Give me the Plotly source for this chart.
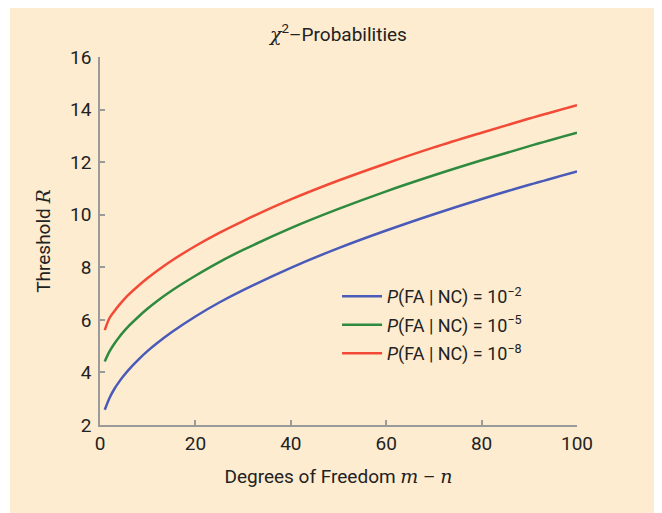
import plotly.graph_objects as go

# Degrees of freedom sampled along the curves
dof = [1, 2, 3, 4, 5, 6, 8, 10, 12, 15, 20, 25, 30, 40, 50, 60, 70, 80, 90, 100]

# Threshold R for each false-alarm probability
r_1e2 = [2.58, 3.03, 3.37, 3.64, 3.88, 4.10, 4.48, 4.82, 5.12, 5.53, 6.13, 6.66, 7.13,
         7.98, 8.73, 9.40, 10.02, 10.60, 11.14, 11.65]
r_1e5 = [4.42, 4.80, 5.09, 5.34, 5.56, 5.76, 6.11, 6.43, 6.72, 7.11, 7.68, 8.20, 8.66,
         9.49, 10.22, 10.89, 11.50, 12.07, 12.61, 13.12]
r_1e8 = [5.61, 6.07, 6.33, 6.56, 6.77, 6.96, 7.29, 7.59, 7.87, 8.25, 8.81, 9.31, 9.76,
         10.58, 11.30, 11.95, 12.56, 13.12, 13.66, 14.17]

series_names = [
    "<i>P</i>(FA | NC) = 10<sup>−2</sup>",
    "<i>P</i>(FA | NC) = 10<sup>−5</sup>",
    "<i>P</i>(FA | NC) = 10<sup>−8</sup>",
]
series_colors = ["#4a5ab8", "#2e8a3f", "#f24a36"]

x_ticks = [0, 20, 40, 60, 80, 100]
y_ticks = [2, 4, 6, 8, 10, 12, 14, 16]

FONT = "Roboto, Noto Sans, sans-serif"
SERIF = "DejaVu Serif, Liberation Serif, serif"


def fnt(size):
    return dict(family=FONT, size=size, color="#222222")


fig = go.Figure()
for i, (name, ys, col) in enumerate(zip(series_names, [r_1e2, r_1e5, r_1e8], series_colors)):
    fig.add_trace(go.Scatter(
        x=dof, y=ys, mode="lines", name=name, legendgroup=f"g{i}",
        line=dict(color=col, width=2.5, shape="spline", smoothing=1.0),
    ))

axis_common = dict(
    showline=True, linecolor="#9a9a9a", linewidth=1.5, mirror=False,
    ticks="inside", ticklen=5, tickcolor="#9a9a9a", tickwidth=2,
    showgrid=False, zeroline=False, automargin=False,
    tickfont=fnt(19),
)

fig.update_layout(
    width=662, height=513,
    margin=dict(l=92, r=93, t=49, b=96),
    paper_bgcolor="white",
    plot_bgcolor="white",
    font=fnt(18),
    title=dict(
        text=f"<span style='font-family:{SERIF}'><i>χ</i></span><sup>2</sup>–Probabilities",
        x=(92 + 569) / 2 / 662, xanchor="center",
        y=1 - 26 / 513, yanchor="middle",
        font=fnt(19),
    ),
    xaxis=dict(
        range=[0, 100], tickvals=x_ticks,
        title=dict(
            text=f"Degrees of Freedom <span style='font-family:{SERIF}'><i>m</i></span> – <span style='font-family:{SERIF}'><i>n</i></span>",
            font=fnt(19), standoff=16,
        ),
        **axis_common,
    ),
    yaxis=dict(
        range=[2, 16], tickvals=y_ticks, ticklabelstandoff=3,
        title=dict(
            text=f"Threshold <span style='font-family:{SERIF}'><i>R</i></span>",
            font=fnt(19), standoff=14,
        ),
        **axis_common,
    ),
    legend=dict(
        x=0.497, y=0.399, xanchor="left", yanchor="top",
        bgcolor="rgba(0,0,0,0)", borderwidth=0,
        font=fnt(18),
        tracegroupgap=2, itemwidth=40,
    ),
    showlegend=True,
    shapes=[dict(
        type="rect", xref="paper", yref="paper", layer="below",
        x0=(2 - 92) / 477, x1=(650 - 92) / 477,
        y0=(417 - 520) / 368, y1=(417 + 1) / 368,
        fillcolor="#fdecd0", line=dict(width=0),
    )],
)

fig.write_html("out.html")
